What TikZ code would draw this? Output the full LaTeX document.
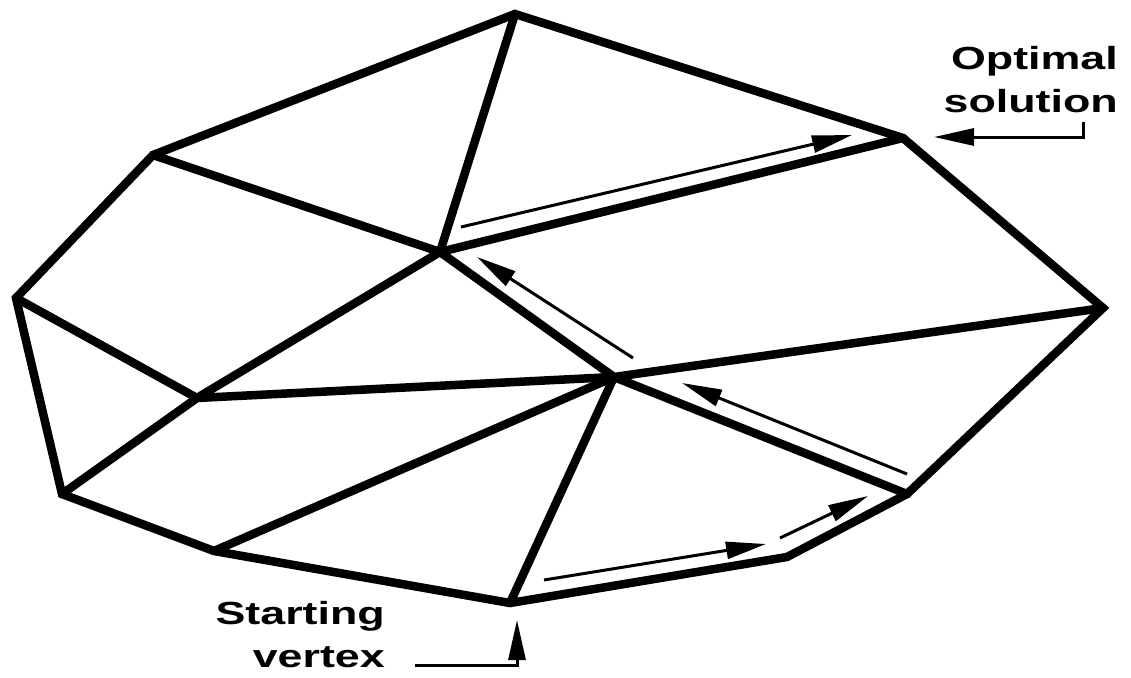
\documentclass[tikz,border=0pt]{standalone}
\usepackage{fontspec}
\newfontfamily\lblfont{Liberation Sans}[FakeStretch=1.4]
\usetikzlibrary{arrows.meta}
\tikzset{
  edge/.style={line width=8.5pt, line join=miter, line cap=round},
  walk/.style={line width=3pt, -{Triangle[length=40pt,width=17pt]}},
  lbl/.style={font=\lblfont\bfseries\fontsize{32}{43}\selectfont, align=right, inner sep=0pt},
}
\begin{document}
\begin{tikzpicture}[x=1pt,y=-1pt]
\useasboundingbox (0,0) rectangle (1131,677);
% vertices
\coordinate (A) at (515,14);
\coordinate (B) at (903,138);
\coordinate (C) at (1103,308);
\coordinate (D) at (907,494);
\coordinate (E) at (787,557);
\coordinate (F) at (510,603);
\coordinate (G) at (214,551);
\coordinate (H) at (62,494);
\coordinate (I) at (16,298);
\coordinate (J) at (153,155);
\coordinate (K) at (440,252);
\coordinate (L) at (614,377);
\coordinate (M) at (197,398);
% outer polygon
\draw[edge] (A) -- (B) -- (C) -- (D) -- (E) -- (F) -- (G) -- (H) -- (I) -- (J) -- cycle;
% inner edges
\draw[edge] (A) -- (K);
\draw[edge] (J) -- (K);
\draw[edge] (K) -- (B);
\draw[edge] (K) -- (L);
\draw[edge] (K) -- (M);
\draw[edge] (I) -- (M);
\draw[edge] (M) -- (H);
\draw[edge] (M) -- (L);
\draw[edge] (G) -- (L);
\draw[edge] (L) -- (C);
\draw[edge] (L) -- (D);
\draw[edge] (L) -- (F);
% simplex walk arrows
\coordinate (w1s) at (544,580); \coordinate (w1e) at (766,544);
\coordinate (w2s) at (780,538); \coordinate (w2e) at (868,496);
\coordinate (w3s) at (907,474); \coordinate (w3e) at (682,383);
\coordinate (w4s) at (633,358); \coordinate (w4e) at (477,257);
\coordinate (w5s) at (461,227); \coordinate (w5e) at (852,135);
\draw[walk] (w1s) -- (w1e);
\draw[walk] (w2s) -- (w2e);
\draw[walk] (w3s) -- (w3e);
\draw[walk] (w4s) -- (w4e);
\draw[walk] (w5s) -- (w5e);
% labels
\node[lbl, anchor=base east] (opt) at (1118,112) {Optimal\\solution};
\node[lbl, anchor=base east] (start) at (385,667) {Starting\\vertex};
\coordinate (optc) at (1083,122);
\coordinate (optt) at (934,137);
\draw[walk] (optc) |- (optt);
\coordinate (stc) at (415,665);
\coordinate (stt) at (517,620);
\draw[walk] (stc) -| (stt);
\end{tikzpicture}
\end{document}
